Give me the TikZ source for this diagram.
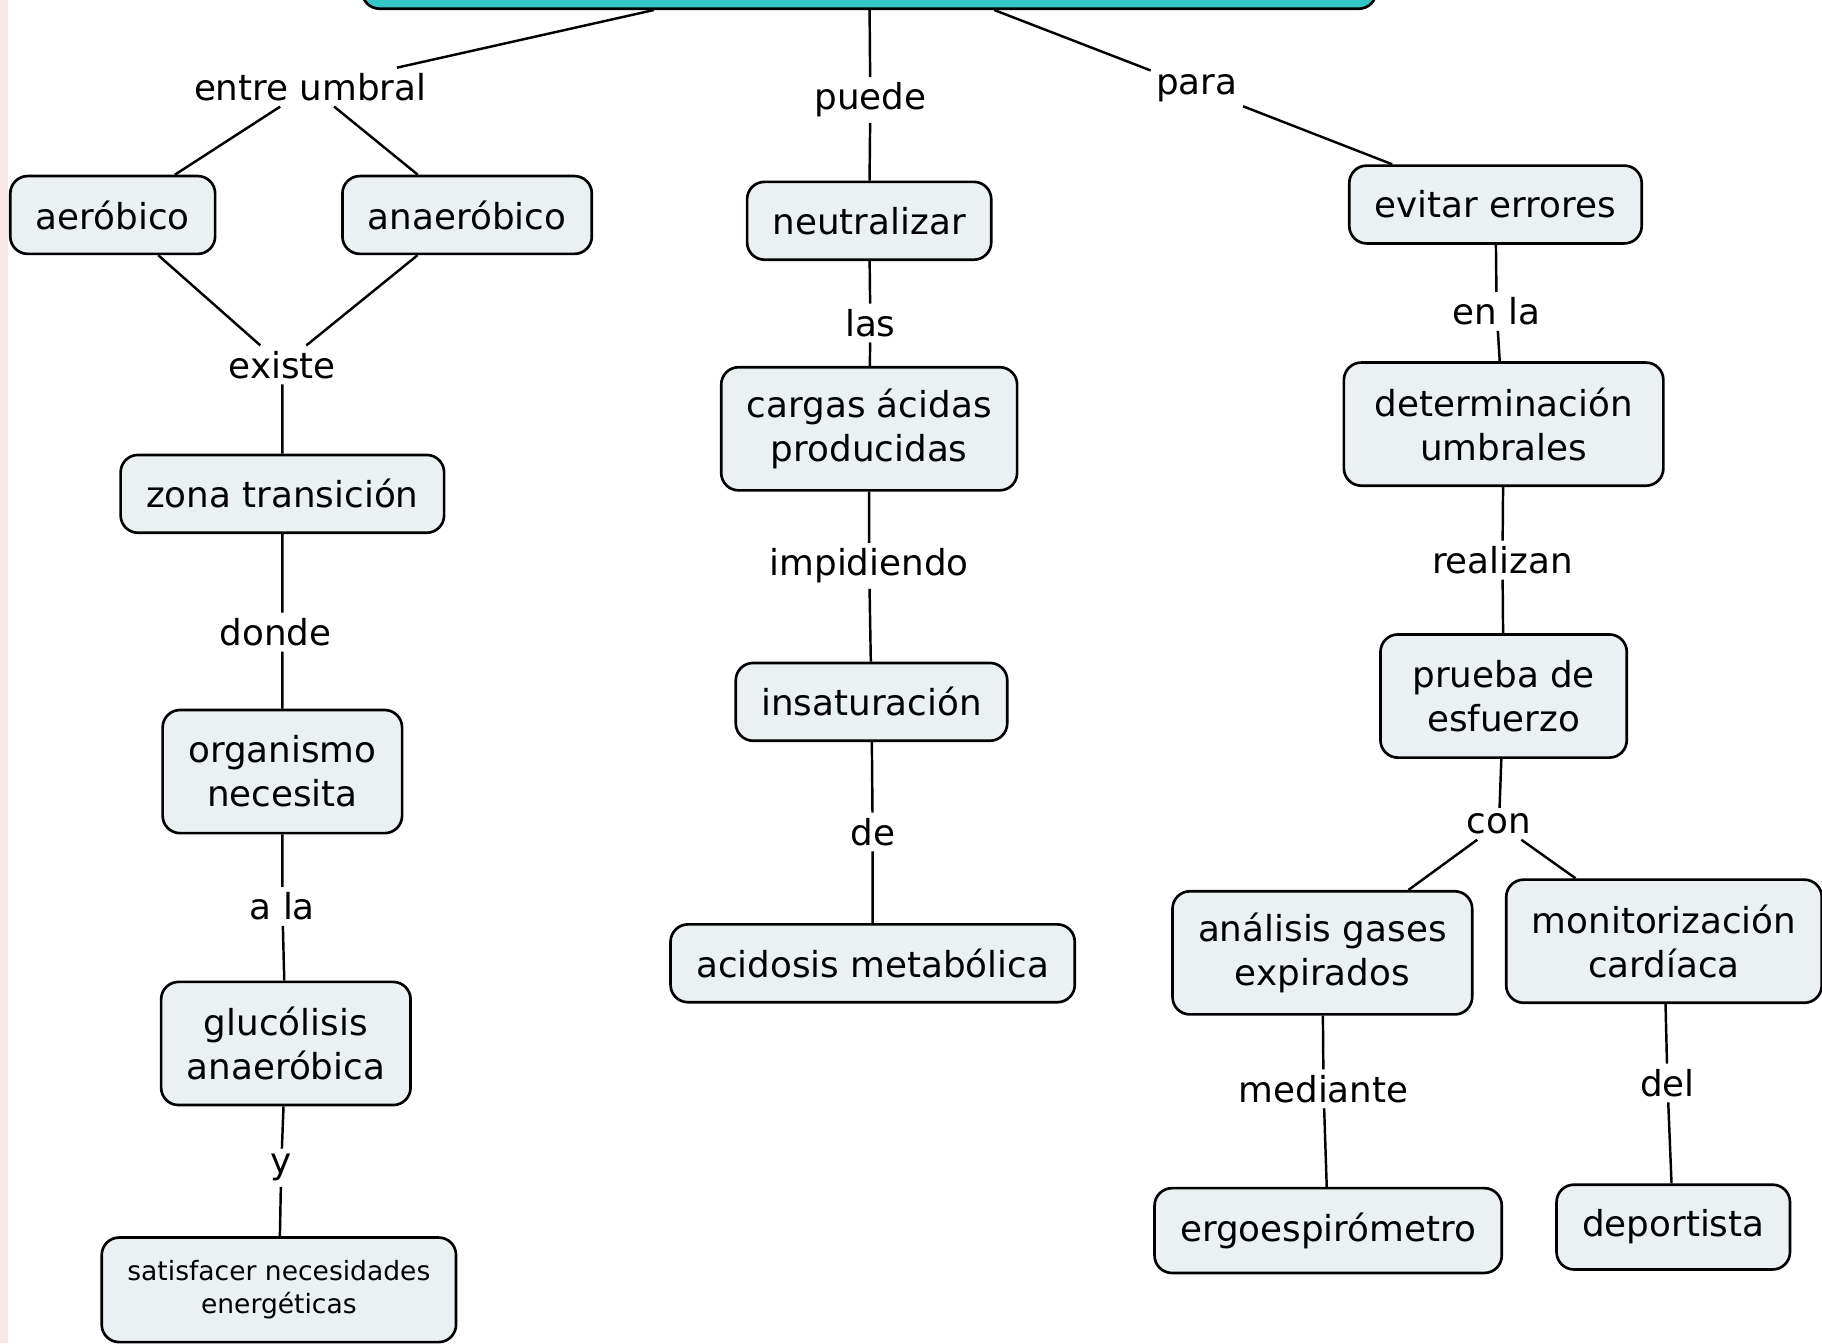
\documentclass[tikz,border=0pt]{standalone}
\usepackage{fontspec}
\setmainfont{DejaVu Sans}
\usepackage{tikz}
\definecolor{conceptfill}{RGB}{235,241,243}
\definecolor{rootteal}{RGB}{52,198,198}
\definecolor{edgepink}{RGB}{247,232,230}

\tikzset{
    concept/.style={draw, line width=1.3pt, fill=conceptfill, rounded corners=0.3cm,
        align=center, inner xsep=0.44cm, inner ysep=0.1cm, minimum height=1.34cm,
        font=\fontsize{17.5pt}{21.6pt}\selectfont},
    twoline/.style={concept, minimum height=2.12cm},
    linkword/.style={inner sep=0.09cm, font=\fontsize{17.5pt}{21.6pt}\selectfont},
    link/.style={line width=1.2pt}
}

\begin{document}
\begin{tikzpicture}[x=0.02cm, y=-0.02cm]
        \fill[white] (0,0) rectangle (1568,1156);
        \useasboundingbox (0,0) rectangle (1568,1156);
        \fill[edgepink] (0,0) rectangle (7,1156);

        % main concept, cut by the top edge
        \node[draw, line width=1.3pt, fill=rootteal, rounded corners=0.3cm, minimum width=17.46cm, minimum height=1.62cm] (tema) at (748,-33) {};

        % left branch
        \node[linkword] (entre) at (267,75) {entre umbral};
        \node[concept] (aer) at (97,185) {aeróbico};
        \node[concept] (anaer) at (402,185) {anaeróbico};
        \node[linkword] (existe) at (243,314) {existe};
        \node[concept] (zona) at (243,425) {zona transición};
        \node[linkword] (donde) at (237,544) {donde};
        \node[twoline] (organ) at (243,664) {organismo\\necesita};
        \node[linkword] (ala) at (243,780) {a la};
        \node[twoline] (gluco) at (246,898) {glucólisis\\anaeróbica};
        \node[linkword] (yy) at (242,1005) {y};
        \node[concept, minimum height=1.8cm, minimum width=6.1cm, font=\fontsize{13pt}{15.9pt}\selectfont] (satis) at (240,1110) {satisfacer necesidades\\energéticas};

        % middle branch
        \node[linkword] (puede) at (749,86) {puede};
        \node[concept] (neutra) at (748,190) {neutralizar};
        \node[linkword] (las) at (749,278) {las};
        \node[twoline] (cargas) at (748,369) {cargas ácidas\\producidas};
        \node[linkword] (impid) at (748,487) {impidiendo};
        \node[concept] (insat) at (750,604) {insaturación};
        \node[linkword] (dee) at (751,716) {de};
        \node[concept] (acidosis) at (751,829) {acidosis metabólica};

        % right branch
        \node[linkword] (para) at (1030,76) {para};
        \node[concept] (evitar) at (1287,176) {evitar errores};
        \node[linkword] (enla) at (1288,268) {en la};
        \node[twoline, minimum width=5.5cm] (determ) at (1294,365) {determinación\\umbrales};
        \node[linkword] (realiz) at (1293,482) {realizan};
        \node[twoline, minimum width=4.24cm] (prueba) at (1294,599) {prueba de\\esfuerzo};
        \node[linkword] (con) at (1290,709) {con};
        \node[twoline] (analisis) at (1138,820) {análisis gases\\expirados};
        \node[twoline] (monitor) at (1432,810) {monitorización\\cardíaca};
        \node[linkword] (mediante) at (1139,937) {mediante};
        \node[linkword] (del) at (1435,932) {del};
        \node[concept, minimum height=1.46cm] (ergo) at (1143,1059) {ergoespirómetro};
        \node[concept, minimum height=1.46cm] (deport) at (1440,1056) {deportista};

        \draw[link] (tema) -- (entre) (entre) -- (aer) (entre) -- (anaer)
            (aer) -- (existe) (anaer) -- (existe) (existe) -- (zona)
            (zona) -- (donde.north -| zona) (donde.south -| organ) -- (organ)
            (organ) -- (ala) (ala) -- (gluco) (gluco) -- (yy) (yy) -- (satis);
        \draw[link] (tema) -- (puede) (puede) -- (neutra) (neutra) -- (las)
            (las) -- (cargas) (cargas) -- (impid) (impid) -- (insat)
            (insat) -- (dee) (dee) -- (acidosis);
        \draw[link] (tema) -- (para) (para) -- (evitar) (evitar) -- (enla)
            (enla) -- (determ) (determ) -- (realiz) (realiz) -- (prueba)
            (prueba) -- (con) (con) -- (analisis) (con) -- (monitor)
            (analisis) -- (mediante) (mediante) -- (ergo)
            (monitor) -- (del) (del) -- (deport);
    \end{tikzpicture}
\end{document}
